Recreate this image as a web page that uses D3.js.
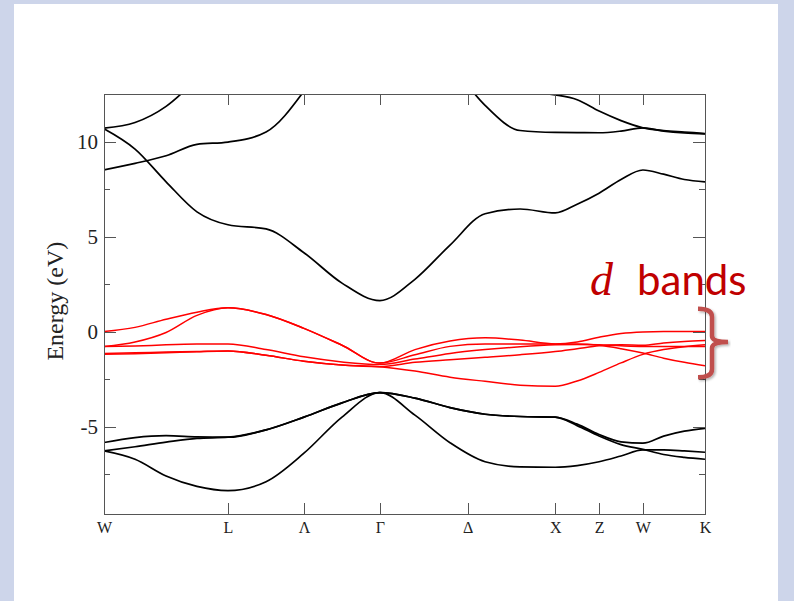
<!DOCTYPE html>
<html>
<head>
<meta charset="utf-8">
<script src="https://cdn.jsdelivr.net/npm/d3@7"></script>
<style>
  html, body { margin: 0; padding: 0; background: #cdd5ea; }
  svg { display: block; }
  .axis text { font-family: "Liberation Serif", "Times New Roman", serif; fill: #222; }
  .axis path, .axis line { stroke: #555; stroke-width: 1; shape-rendering: crispEdges; }
</style>
</head>
<body>
<svg id="chart" width="794" height="601"></svg>
<script>
// high-symmetry points along the k-path (units of 2pi/a)
var symLabels = ["W", "L", "Λ", "Γ", "Δ", "X", "Z", "W", "K"];
var symK = [0, 0.707, 1.140, 1.573, 2.073, 2.573, 2.823, 3.073, 3.427];

// k sample points the band energies were read at
var kGrid = [0, 0.177, 0.354, 0.530, 0.707, 0.924, 1.140, 1.357, 1.573, 1.773, 1.973,
             2.173, 2.373, 2.573, 2.698, 2.823, 2.948, 3.073, 3.191, 3.309, 3.427];

var yMajorTicks = [-5, 0, 5, 10];
var yMinorTicks = [-7.5, -2.5, 2.5, 7.5];

// valence s-p bands (eV)
var valence1 = [-5.84, -5.58, -5.48, -5.54, -5.56, -5.17, -4.5, -3.75, -3.21, -3.5, -4.0,
                -4.35, -4.47, -4.5, -4.87, -5.42, -5.8, -5.87, -5.5, -5.24, -5.09];
var valence2 = [-6.28, -6.06, -5.82, -5.62, -5.56, -5.17, -4.5, -3.75, -3.21, -3.5, -4.0,
                -4.35, -4.47, -4.5, -4.95, -5.5, -5.95, -6.2, -6.47, -6.62, -6.72];
var valence3 = [-6.28, -6.72, -7.6, -8.15, -8.37, -7.9, -6.4, -4.5, -3.21, -4.4, -5.85,
                -6.85, -7.12, -7.14, -7.05, -6.85, -6.55, -6.23, -6.23, -6.28, -6.35];

// conduction bands (null = outside the plotted window)
var cond1 = [10.67, 9.6, 7.88, 6.3, 5.62, 5.4, 4.15, 2.55, 1.63, 2.75, 4.55,
             6.2, 6.45, 6.24, 6.7, 7.28, 8.0, 8.5, 8.28, 8.0, 7.88];
var cond2 = [8.51, 8.85, 9.25, 9.85, 9.97, 10.5, 12.65, null, null, null, null,
             null, null, null, null, null, null, null, null, null, null];
var cond3 = [10.7, 11.0, 11.85, 13.3, null, null, null, null, null, null, null,
             null, null, null, null, null, null, null, null, null, null];
var cond4 = [null, null, null, null, null, null, null, null, null, null, 14.2,
             11.9, 10.58, 10.48, 10.47, 10.46, 10.55, 10.72, 10.55, 10.45, 10.4];
var cond5 = [null, null, null, null, null, null, null, null, null, null, null,
             null, 12.6, 12.45, 12.2, 11.6, 11.1, 10.72, 10.58, 10.5, 10.42];

// d bands (red)
var dBand1 = [0.0, 0.22, 0.65, 1.02, 1.25, 0.9, 0.17, -0.72, -1.66, -0.95, -0.5,
              -0.33, -0.45, -0.65, -0.55, -0.3, -0.1, -0.02, 0.0, 0.0, 0.0];
var dBand2 = [-0.79, -0.55, -0.05, 0.85, 1.25, 0.9, 0.17, -0.72, -1.66, -1.22, -0.78,
              -0.65, -0.65, -0.65, -0.65, -0.72, -0.9, -1.13, -1.4, -1.62, -1.8];
var dBand3 = [-0.79, -0.76, -0.7, -0.66, -0.65, -0.95, -1.33, -1.6, -1.74, -1.45, -1.15,
              -0.95, -0.8, -0.7, -0.68, -0.7, -0.75, -0.78, -0.78, -0.79, -0.79];
var dBand4 = [-1.15, -1.12, -1.08, -1.05, -1.02, -1.25, -1.56, -1.76, -1.85, -1.62, -1.48,
              -1.35, -1.22, -1.05, -0.9, -0.75, -0.7, -0.72, -0.6, -0.52, -0.47];
var dBand5 = [-1.2, -1.17, -1.12, -1.06, -1.02, -1.25, -1.56, -1.76, -1.85, -2.08, -2.4,
              -2.62, -2.82, -2.88, -2.6, -2.15, -1.65, -1.2, -0.95, -0.8, -0.7];

var blackBands = [valence1, valence2, valence3, cond1, cond2, cond3, cond4, cond5];
var redBands = [dBand1, dBand2, dBand3, dBand4, dBand5];

var svg = d3.select("#chart");

// slide panel
svg.append("rect")
    .attr("x", 14).attr("y", 4)
    .attr("width", 764).attr("height", 597)
    .attr("fill", "#fff");

var plot = { left: 104, right: 705, top: 94, bottom: 514 };

var xScale = d3.scaleLinear()
    .domain([symK[0], symK[symK.length - 1]])
    .range([plot.left, plot.right]);

var yScale = d3.scaleLinear()
    .domain([-9.6, 12.5])
    .range([plot.bottom, plot.top]);

svg.append("clipPath").attr("id", "plotClip")
    .append("rect")
    .attr("x", plot.left).attr("y", plot.top)
    .attr("width", plot.right - plot.left).attr("height", plot.bottom - plot.top);

var line = d3.line()
    .defined(function (d) { return d[1] != null; })
    .x(function (d) { return xScale(d[0]); })
    .y(function (d) { return yScale(d[1]); })
    .curve(d3.curveMonotoneX);

function toPoints(band) {
    return kGrid.map(function (k, i) { return [k, band[i]]; });
}

var bandsG = svg.append("g").attr("clip-path", "url(#plotClip)");

bandsG.selectAll(".sp")
    .data(blackBands)
    .enter()
    .append("path")
    .attr("class", "sp")
    .attr("fill", "none")
    .attr("stroke", "#000")
    .attr("stroke-width", 1.7)
    .attr("d", function (b) { return line(toPoints(b)); });

bandsG.selectAll(".dband")
    .data(redBands)
    .enter()
    .append("path")
    .attr("class", "dband")
    .attr("fill", "none")
    .attr("stroke", "#ff0000")
    .attr("stroke-width", 1.5)
    .attr("d", function (b) { return line(toPoints(b)); });

// axes / frame
svg.append("g")
    .attr("class", "axis")
    .attr("transform", "translate(0," + plot.bottom + ")")
    .call(d3.axisBottom(xScale)
        .tickValues(symK)
        .tickFormat(function (d, i) { return symLabels[i]; })
        .tickSizeInner(-11)
        .tickSizeOuter(0)
        .tickPadding(8))
    .selectAll("text")
    .style("font-size", "16px");

svg.append("g")
    .attr("class", "axis")
    .attr("transform", "translate(0," + plot.top + ")")
    .call(d3.axisTop(xScale)
        .tickValues(symK)
        .tickFormat("")
        .tickSizeInner(-11)
        .tickSizeOuter(0));

svg.append("g")
    .attr("class", "axis")
    .attr("transform", "translate(" + plot.left + ",0)")
    .call(d3.axisLeft(yScale)
        .tickValues(yMajorTicks)
        .tickFormat(function (d) { return String(d); })
        .tickSizeInner(-12)
        .tickSizeOuter(0)
        .tickPadding(6))
    .selectAll("text")
    .style("font-size", "21px");

svg.append("g")
    .attr("class", "axis")
    .attr("transform", "translate(" + plot.left + ",0)")
    .call(d3.axisLeft(yScale)
        .tickValues(yMinorTicks)
        .tickFormat("")
        .tickSizeInner(-6)
        .tickSizeOuter(0));

svg.append("g")
    .attr("class", "axis")
    .attr("transform", "translate(" + plot.right + ",0)")
    .call(d3.axisRight(yScale)
        .tickValues(yMajorTicks)
        .tickFormat("")
        .tickSizeInner(-12)
        .tickSizeOuter(0));

svg.append("g")
    .attr("class", "axis")
    .attr("transform", "translate(" + plot.right + ",0)")
    .call(d3.axisRight(yScale)
        .tickValues(yMinorTicks)
        .tickFormat("")
        .tickSizeInner(-6)
        .tickSizeOuter(0));

svg.append("text")
    .attr("transform", "translate(63," + yScale(1.6) + ") rotate(-90)")
    .attr("text-anchor", "middle")
    .style("font-family", "'Liberation Serif', 'Times New Roman', serif")
    .style("font-size", "24px")
    .attr("fill", "#222")
    .text("Energy (eV)");

// "d bands" annotation with brace
svg.append("text")
    .attr("x", 590).attr("y", 295)
    .style("font-family", "'Liberation Serif', serif")
    .style("font-style", "italic")
    .style("font-size", "46px")
    .attr("fill", "#c00000")
    .text("d");

svg.append("text")
    .attr("x", 637).attr("y", 295)
    .style("font-family", "Lato, 'Open Sans', sans-serif")
    .style("font-size", "42px")
    .attr("fill", "#c00000")
    .text("bands");

var defs = svg.append("defs");
defs.append("filter").attr("id", "shadow")
    .append("feDropShadow")
    .attr("dx", 1.5).attr("dy", 1.5)
    .attr("stdDeviation", 1)
    .attr("flood-color", "#000")
    .attr("flood-opacity", 0.3);

var bx = plot.right;
var bTop = yScale(1.2), bMid = yScale(-0.55), bBot = yScale(-2.4);
var brace = d3.path();
brace.moveTo(bx - 7, bTop);
brace.quadraticCurveTo(bx + 7, bTop, bx + 7, bTop + 8);
brace.lineTo(bx + 7, bMid - 6);
brace.quadraticCurveTo(bx + 7, bMid, bx + 23, bMid);
brace.quadraticCurveTo(bx + 7, bMid, bx + 7, bMid + 6);
brace.lineTo(bx + 7, bBot - 8);
brace.quadraticCurveTo(bx + 7, bBot, bx - 7, bBot);

svg.append("path")
    .attr("d", brace.toString())
    .attr("fill", "none")
    .attr("stroke", "#c0504d")
    .attr("stroke-width", 4.5)
    .attr("filter", "url(#shadow)");
</script>
</body>
</html>
